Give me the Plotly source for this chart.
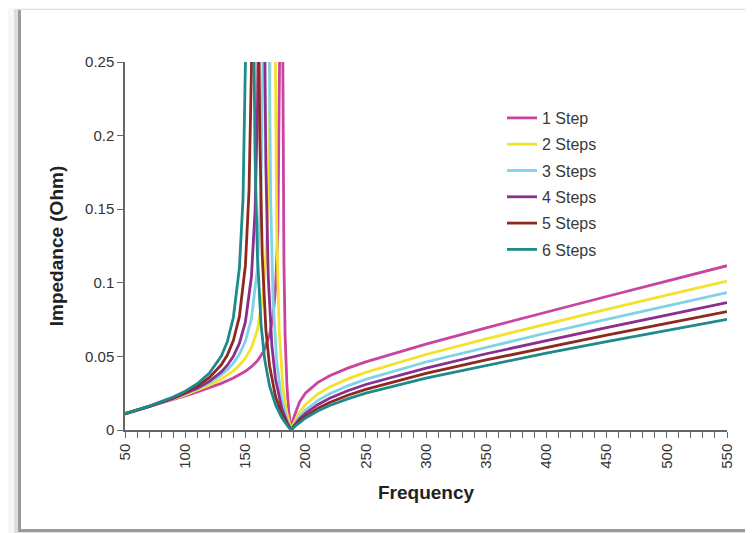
import plotly.graph_objects as go

# ---- data (Frequency vs Impedance in Ohm) ----
series_names = ["1 Step", "2 Steps", "3 Steps", "4 Steps", "5 Steps", "6 Steps"]

f_1step = [50, 70, 90, 100, 110, 120, 130, 140, 150, 155, 160, 165, 170, 173, 175, 177, 178, 178.8,
           181, 182, 183, 184.5, 186, 188, 190, 195, 200, 210, 220, 235, 250, 300, 350, 400, 450, 500, 550]
z_1step = [0.0113, 0.0159, 0.0207, 0.0232, 0.0258, 0.0286, 0.0317, 0.0353, 0.0399, 0.0430, 0.0470, 0.0531, 0.0642, 0.0778, 0.0954, 0.1361, 0.1866, 0.287,
           0.266, 0.1145, 0.0639, 0.0301, 0.0130, 0.0, 0.0080, 0.0191, 0.0251, 0.0322, 0.0368, 0.0420, 0.0463, 0.0584, 0.0694, 0.0802, 0.0907, 0.1012, 0.1116]

f_2steps = [50, 70, 90, 100, 110, 120, 130, 140, 145, 150, 155, 160, 165, 168, 170, 171,
            174.5, 176, 178, 181, 184, 188, 190, 195, 200, 210, 220, 235, 250, 300, 350, 400, 450, 500, 550]
z_2steps = [0.0113, 0.0160, 0.0211, 0.0239, 0.0270, 0.0304, 0.0346, 0.0401, 0.0439, 0.0488, 0.0560, 0.0679, 0.0936, 0.1330, 0.2031, 0.2917,
            0.299, 0.1358, 0.0691, 0.0308, 0.0130, 0.0, 0.0044, 0.0121, 0.0173, 0.0243, 0.0292, 0.0347, 0.0391, 0.0513, 0.0619, 0.0720, 0.0819, 0.0916, 0.1012]

f_3steps = [50, 70, 90, 100, 110, 120, 130, 135, 140, 145, 150, 155, 160, 163, 165,
            169.6, 171, 173, 176, 180, 185, 188, 190, 195, 200, 210, 220, 235, 250, 300, 350, 400, 450, 500, 550]
z_3steps = [0.0112, 0.0160, 0.0214, 0.0245, 0.0279, 0.0321, 0.0374, 0.0409, 0.0454, 0.0514, 0.0603, 0.0756, 0.1099, 0.1658, 0.2755,
            0.282, 0.1558, 0.0880, 0.0462, 0.0214, 0.0059, 0.0, 0.0031, 0.0092, 0.0136, 0.0200, 0.0246, 0.0300, 0.0344, 0.0462, 0.0563, 0.0659, 0.0752, 0.0843, 0.0934]

f_4steps = [50, 70, 90, 100, 110, 120, 130, 135, 140, 145, 150, 155, 158, 160, 161,
            165.8, 167, 169, 172, 175, 180, 185, 188, 190, 195, 200, 210, 220, 235, 250, 300, 350, 400, 450, 500, 550]
z_4steps = [0.0110, 0.0158, 0.0214, 0.0246, 0.0283, 0.0330, 0.0395, 0.0440, 0.0500, 0.0588, 0.0734, 0.1041, 0.1481, 0.2178, 0.2928,
            0.291, 0.1797, 0.1036, 0.0571, 0.0348, 0.0153, 0.0045, 0.0, 0.0025, 0.0075, 0.0114, 0.0172, 0.0216, 0.0267, 0.0309, 0.0421, 0.0518, 0.0608, 0.0696, 0.0781, 0.0866]

f_5steps = [50, 70, 90, 100, 110, 120, 130, 135, 140, 145, 150, 153, 155, 156,
            161, 162, 164, 167, 170, 175, 180, 185, 188, 190, 195, 200, 210, 220, 235, 250, 300, 350, 400, 450, 500, 550]
z_5steps = [0.0110, 0.0160, 0.0219, 0.0255, 0.0298, 0.0356, 0.0443, 0.0509, 0.0607, 0.0770, 0.1118, 0.1623, 0.2440, 0.334,
            0.286, 0.1986, 0.1182, 0.0682, 0.0440, 0.0228, 0.0111, 0.0035, 0.0, 0.0020, 0.0062, 0.0095, 0.0147, 0.0187, 0.0236, 0.0276, 0.0384, 0.0476, 0.0561, 0.0644, 0.0725, 0.0804]

f_6steps = [50, 70, 90, 100, 110, 120, 130, 135, 140, 145, 148, 150, 151,
            156.5, 158, 160, 163, 166, 170, 175, 180, 185, 188, 190, 195, 200, 210, 220, 235, 250, 300, 350, 400, 450, 500, 550]
z_6steps = [0.0110, 0.0162, 0.0224, 0.0264, 0.0314, 0.0385, 0.0502, 0.0600, 0.0764, 0.1100, 0.1565, 0.2259, 0.295,
            0.312, 0.1874, 0.1180, 0.0715, 0.0480, 0.0301, 0.0171, 0.0087, 0.0028, 0.0, 0.0017, 0.0052, 0.0082, 0.0129, 0.0166, 0.0211, 0.0250, 0.0353, 0.0440, 0.0522, 0.0600, 0.0676, 0.0752]

freqs = [f_1step, f_2steps, f_3steps, f_4steps, f_5steps, f_6steps]
imps = [z_1step, z_2steps, z_3steps, z_4steps, z_5steps, z_6steps]
colors = ["#c8449f", "#f3e22c", "#80d2e6", "#8a2e8f", "#8c2a20", "#1f8a8a"]

x_ticks = [50, 100, 150, 200, 250, 300, 350, 400, 450, 500, 550]
y_ticks = [0, 0.05, 0.1, 0.15, 0.2, 0.25]
y_tick_text = ["0", "0.05", "0.1", "0.15", "0.2", "0.25"]

# ---- figure (page body has an 8px margin, so the figure is drawn 8px in) ----
OFF = 8
W, H = 753 - OFF, 533 - OFF
PL, PR, PT, PB = 125, 727, 62, 430          # plot area in window pixels
L, R, T, B = PL - OFF, 753 - PR, PT - OFF, 533 - PB
pw, ph = PR - PL, PB - PT

def px_x(p):
    return (p - PL) / pw

def px_y(p):
    return (PB - p) / ph

fig = go.Figure()
for name, fx, zy, c in zip(series_names, freqs, imps, colors):
    fig.add_trace(go.Scatter(x=fx, y=zy, mode="lines", name=name, legendgroup=name,
                             line=dict(color=c, width=2.8)))

FONT = "Liberation Sans, Arial, sans-serif"
axis_font = dict(family=FONT, size=15, color="#333")

fig.update_layout(
    width=W, height=H,
    margin=dict(l=L, r=R, t=T, b=B),
    paper_bgcolor="#f7f7f7",
    plot_bgcolor="rgba(0,0,0,0)",
    font=dict(family=FONT, color="#333"),
    showlegend=True,
    legend=dict(x=px_x(502), y=px_y(101), xanchor="left", yanchor="top",
                bgcolor="rgba(0,0,0,0)", tracegroupgap=2.5,
                font=dict(size=16, color="#3a3a3a")),
    xaxis=dict(range=[50, 550], tickmode="array", tickvals=x_ticks,
               ticktext=[str(v) for v in x_ticks], tickangle=-90,
               showgrid=False, zeroline=False, showline=True, linecolor="#666", linewidth=1.5,
               ticks="outside", ticklen=6, tickcolor="#666", tickwidth=1.2,
               minor=dict(dtick=10, ticks="outside", ticklen=6, tickcolor="#666", tickwidth=1.2),
               tickfont=axis_font,
               title=dict(text="<b>Frequency</b>", font=dict(size=19, color="#222"), standoff=18)),
    yaxis=dict(range=[0, 0.25], tickmode="array", tickvals=y_ticks, ticktext=y_tick_text,
               showgrid=False, zeroline=False, showline=True, linecolor="#666", linewidth=1.5,
               ticks="outside", ticklen=6, tickcolor="#666", tickwidth=1.2,
               tickfont=axis_font,
               title=dict(text="<b>Impedance (Ohm)</b>", font=dict(size=19, color="#222"), standoff=16)),
    shapes=[
        dict(type="rect", xref="paper", yref="paper", layer="below",
             x0=px_x(14), x1=px_x(760), y0=px_y(534), y1=px_y(9),
             fillcolor="#dedede", line=dict(width=0)),
        dict(type="rect", xref="paper", yref="paper", layer="below",
             x0=px_x(18), x1=px_x(760), y0=px_y(532), y1=px_y(10),
             fillcolor="#9a9a9a", line=dict(width=0)),
        dict(type="rect", xref="paper", yref="paper", layer="below",
             x0=px_x(21), x1=px_x(760), y0=px_y(529), y1=px_y(10),
             fillcolor="#ffffff", line=dict(width=0)),
    ],
)

fig.write_html("out.html")
